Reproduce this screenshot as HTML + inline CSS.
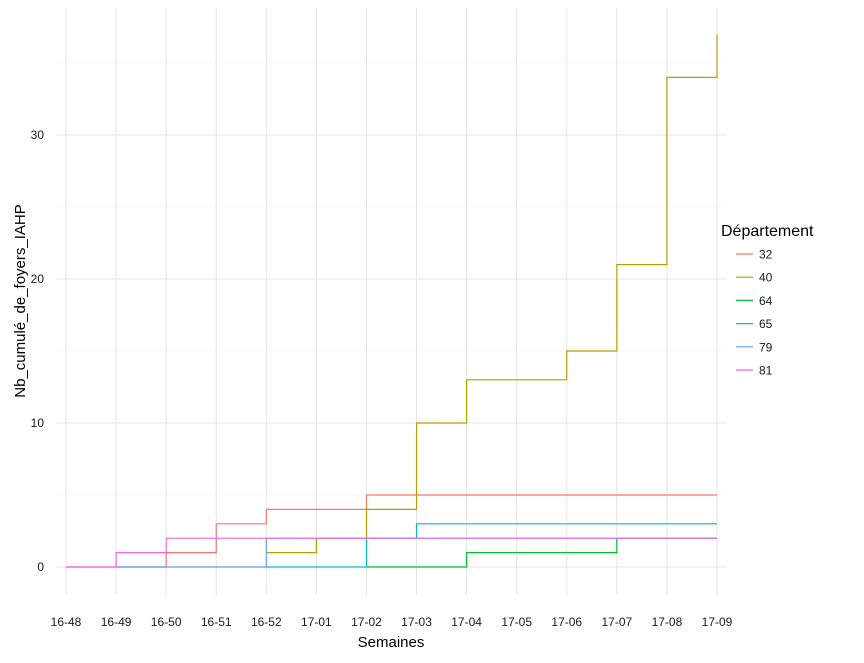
<!DOCTYPE html>
<html><head><meta charset="utf-8"><style>
body{margin:0;background:#fff;font-family:"Liberation Sans",sans-serif}
</style></head><body>
<svg width="864" height="658">
<g id="grid"></g><g id="series"></g><g id="axes"></g><g id="legend"></g>
</svg>
<script>
const categories=["16-48","16-49","16-50","16-51","16-52","17-01","17-02","17-03","17-04","17-05","17-06","17-07","17-08","17-09"];
const seriesNames=["32","40","64","65","79","81"];
const seriesColors=["#F8766D","#B79F00","#00BA38","#00BFC4","#619CFF","#F564E3"];
const s32=[0,0,1,3,4,4,5,5,5,5,5,5,5,5];
const s40=[null,null,null,null,1,2,4,10,13,13,15,21,34,37];
const s64=[null,null,null,null,null,null,0,0,1,1,1,2,2,2];
const s65=[null,null,null,null,0,0,2,3,3,3,3,3,3,3];
const s79=[null,0,0,0,2,2,2,2,2,2,2,2,2,2];
const s81=[0,1,2,2,2,2,2,2,2,2,2,2,2,2];
const yTicks=[0,10,20,30];
const allSeries=[s32,s40,s64,s65,s79,s81];
const NS="http://www.w3.org/2000/svg";
const X0=66,X1=717,Y0=567,PERU=14.4,TOP=8,BOT=595;
const xs=i=>X0+i*(X1-X0)/(categories.length-1);
const ys=v=>Y0-v*PERU;
function mk(tag,attrs,parent){const e=document.createElementNS(NS,tag);for(const k in attrs)e.setAttribute(k,attrs[k]);parent.appendChild(e);return e;}
const grid=document.getElementById('grid'),ser=document.getElementById('series'),axes=document.getElementById('axes'),leg=document.getElementById('legend');
for(let v=-5;v<=40;v+=5){const y=ys(v);if(y<TOP||y>BOT)continue;const l=mk('line',{x1:X0-10,x2:X1+10,y1:y,y2:y,stroke:v%10===0?'#e6e6e6':'#f4f4f4','stroke-width':v%10===0?1:0.6},grid);

}
categories.forEach((c,i)=>{const l=mk('line',{x1:xs(i),x2:xs(i),y1:TOP,y2:BOT,stroke:'#e6e6e6','stroke-width':1},grid);


const t=mk('text',{x:xs(i),y:626,'text-anchor':'middle','font-size':12,fill:'#1a1a1a'},axes);t.textContent=c;

});
yTicks.forEach(v=>{const t=mk('text',{x:44,y:ys(v)+4,'text-anchor':'end','font-size':12,fill:'#1a1a1a'},axes);t.textContent=v;

});
const xt=mk('text',{x:391,y:647,'text-anchor':'middle','font-size':15,fill:'#000'},axes);xt.textContent='Semaines';


const yt=mk('text',{x:25,y:301,'text-anchor':'middle','font-size':15,fill:'#000',transform:'rotate(-90 25 301)'},axes);yt.textContent='Nb_cumulé_de_foyers_IAHP';


allSeries.forEach((s,k)=>{let d='',prev=null;s.forEach((v,i)=>{if(v===null){prev=null;return;}
if(prev===null)d+=`M${xs(i)},${ys(v)}`;else d+=`H${xs(i)}V${ys(v)}`;prev=v;});
const p=mk('path',{d:d,fill:'none',stroke:seriesColors[k],'stroke-width':1.2},ser);

});
const lt=mk('text',{x:721,y:236,'font-size':16,fill:'#000'},leg);lt.textContent='Département';


seriesNames.forEach((n,k)=>{const y=254+k*23.2;const g=mk('g',{},leg);


mk('line',{x1:736,x2:753,y1:y,y2:y,stroke:seriesColors[k],'stroke-width':1.2},g);
const t=mk('text',{x:759,y:y+4.5,'font-size':12,fill:'#1a1a1a'},g);t.textContent=n;});
</script>
</body></html>
